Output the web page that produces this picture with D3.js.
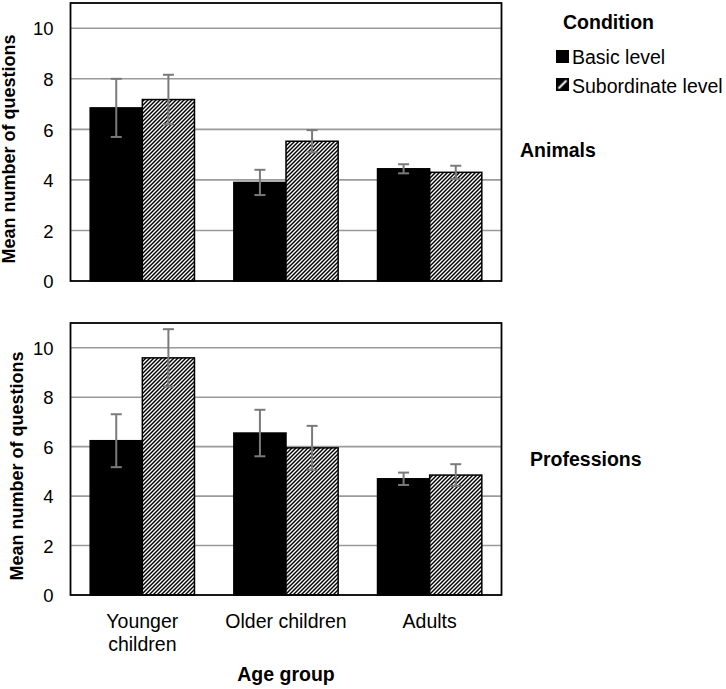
<!DOCTYPE html>
<html><head><meta charset="utf-8">
<script src="https://cdn.jsdelivr.net/npm/d3@7"></script>
<style>
html,body{margin:0;padding:0;background:#fff;}
text{font-family:"Liberation Sans",Arial,sans-serif;fill:#000;}
</style></head>
<body>
<svg id="chart" width="726" height="689"></svg>
<script>
// ---- data ----
const categories = ["Younger children", "Older children", "Adults"];
const categoryLines = [["Younger", "children"], ["Older children"], ["Adults"]];
const seriesNames = ["Basic level", "Subordinate level"];
const yTicks = [0, 2, 4, 6, 8, 10];

const animalsBasic = [6.85, 3.90, 4.44];
const animalsBasicErr = [1.15, 0.50, 0.18];
const animalsSub = [7.18, 5.53, 4.30];
const animalsSubErr = [0.98, 0.44, 0.26];

const profBasic = [6.24, 6.55, 4.70];
const profBasicErr = [1.07, 0.94, 0.25];
const profSub = [9.59, 5.95, 4.85];
const profSubErr = [1.16, 0.89, 0.44];

const panelNames = ["Animals", "Professions"];

// ---- drawing ----
const svg = d3.select("#chart");
const defs = svg.append("defs");
const pat = defs.append("pattern").attr("id", "hatch")
  .attr("patternUnits", "userSpaceOnUse").attr("width", 4).attr("height", 4);
pat.append("rect").attr("width", 4).attr("height", 4).attr("fill", "#fff");
pat.append("path").attr("d", "M-1,1 L1,-1 M0,4 L4,0 M3,5 L5,3")
  .attr("stroke", "#000").attr("stroke-width", 1.45);

const patL = defs.append("pattern").attr("id", "hatchLegend")
  .attr("patternUnits", "userSpaceOnUse").attr("width", 12).attr("height", 12)
  .attr("x", 556.5).attr("y", 78.5);
patL.append("rect").attr("width", 12).attr("height", 12).attr("fill", "#000");
patL.append("path").attr("d", "M2,10 L10,2").attr("stroke", "#fff").attr("stroke-width", 2);

const left = 70.5, right = 501.5;
const panels = [
  {top: 3, bottom: 281, basic: animalsBasic, basicErr: animalsBasicErr, sub: animalsSub, subErr: animalsSubErr,
   titleX: 15, label: panelNames[0], labelX: 520, labelY: 157},
  {top: 323, bottom: 595, basic: profBasic, basicErr: profBasicErr, sub: profSub, subErr: profSubErr,
   titleX: 23, label: panelNames[1], labelX: 530, labelY: 466}
];

const x0 = d3.scaleBand().domain(categories).range([left, right])
  .paddingInner(0.274).paddingOuter(0.137);
const x1 = d3.scaleBand().domain(seriesNames).range([0, x0.bandwidth()]).padding(0);

panels.forEach((p, pi) => {
  const y = d3.scaleLinear().domain([0, 11]).range([p.bottom, p.top]);
  const g = svg.append("g");

  // gridlines
  g.selectAll(".grid").data(yTicks.filter(t => t > 0)).enter().append("line")
    .attr("x1", left).attr("x2", right)
    .attr("y1", d => y(d)).attr("y2", d => y(d))
    .attr("stroke", "#9a9a9a").attr("stroke-width", 1.6);

  // y tick labels via axis
  const ax = g.append("g").attr("transform", `translate(${left},0)`)
    .call(d3.axisLeft(y).tickValues(yTicks).tickSize(0).tickPadding(17).tickFormat(d3.format("d")));
  ax.select(".domain").remove();
  ax.selectAll("text").attr("font-size", 18.5).attr("font-family", "Liberation Sans, Arial, sans-serif")
    .attr("fill", "#000").attr("dy", "0.36em");

  // bars
  const data = categories.map((c, i) => [
    {cat: c, s: seriesNames[0], v: p.basic[i], e: p.basicErr[i]},
    {cat: c, s: seriesNames[1], v: p.sub[i], e: p.subErr[i]}
  ]).flat();

  g.selectAll(".bar").data(data).enter().append("rect")
    .attr("x", d => x0(d.cat) + x1(d.s))
    .attr("y", d => y(d.v))
    .attr("width", x1.bandwidth())
    .attr("height", d => y(0) - y(d.v))
    .attr("fill", d => d.s === seriesNames[0] ? "#000" : "url(#hatch)")
    .attr("stroke", "#000").attr("stroke-width", 1.5);

  // error bars
  const eb = g.selectAll(".err").data(data).enter().append("g")
    .attr("stroke", "#7a7a7a").attr("stroke-width", 2);
  const cx = d => x0(d.cat) + x1(d.s) + x1.bandwidth() / 2;
  eb.append("line").attr("x1", cx).attr("x2", cx)
    .attr("y1", d => y(d.v + d.e)).attr("y2", d => y(d.v - d.e));
  eb.append("line").attr("x1", d => cx(d) - 5.5).attr("x2", d => cx(d) + 5.5)
    .attr("y1", d => y(d.v + d.e)).attr("y2", d => y(d.v + d.e));
  eb.append("line").attr("x1", d => cx(d) - 5.5).attr("x2", d => cx(d) + 5.5)
    .attr("y1", d => y(d.v - d.e)).attr("y2", d => y(d.v - d.e));

  // frame
  g.append("rect").attr("x", left).attr("y", p.top)
    .attr("width", right - left).attr("height", p.bottom - p.top)
    .attr("fill", "none").attr("stroke", "#000").attr("stroke-width", 1.8);

  // y title
  g.append("text")
    .attr("transform", `translate(${p.titleX},${(p.top + p.bottom) / 2 + 7}) rotate(-90)`)
    .attr("text-anchor", "middle").attr("font-size", 18).attr("font-weight", "bold")
    .text("Mean number of questions");

  // panel label
  g.append("text").attr("x", p.labelX).attr("y", p.labelY)
    .attr("font-size", 19.5).attr("font-weight", "bold").text(p.label);

  // category labels (bottom panel only)
  if (pi === 1) {
    categories.forEach((c, i) => {
      const t = g.append("text").attr("text-anchor", "middle")
        .attr("font-size", 19.5)
        .attr("transform", `translate(${x0(c) + x0.bandwidth() / 2},628)`);
      categoryLines[i].forEach((ln, j) => {
        t.append("tspan").attr("x", 0).attr("y", j * 23).text(ln);
      });
    });
    g.append("text").attr("x", (left + right) / 2).attr("y", 681)
      .attr("text-anchor", "middle").attr("font-size", 19.5).attr("font-weight", "bold")
      .text("Age group");
  }
});

// legend
const lg = svg.append("g");
lg.append("text").attr("x", 563).attr("y", 29).attr("font-size", 19.5).attr("font-weight", "bold").text("Condition");
seriesNames.forEach((s, i) => {
  lg.append("rect").attr("x", 556.5).attr("y", 50.5 + i * 28).attr("width", 12).attr("height", 12)
    .attr("fill", i === 0 ? "#000" : "url(#hatchLegend)").attr("stroke", "#000").attr("stroke-width", 1);
  lg.append("text").attr("x", 572).attr("y", 64 + i * 28.5).attr("font-size", 19.5).text(s);
});
</script>
</body></html>
